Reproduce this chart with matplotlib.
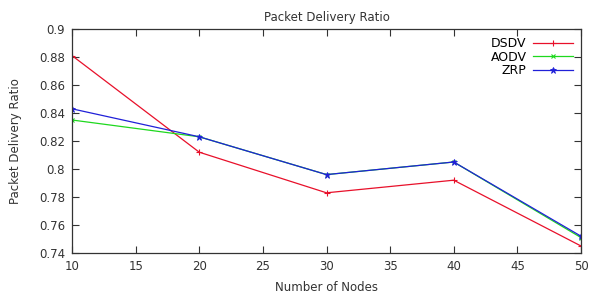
import matplotlib.pyplot as plt

nodes = [10, 20, 30, 40, 50]
dsdv = [0.881, 0.812, 0.783, 0.792, 0.745]
aodv = [0.835, 0.823, 0.796, 0.805, 0.751]
zrp = [0.843, 0.823, 0.796, 0.805, 0.752]

fig = plt.figure(figsize=(6.03, 2.96), dpi=100)
ax = fig.add_axes([72 / 603, 1 - 253 / 296, (581 - 72) / 603, (253 - 29) / 296])

ax.plot(nodes, dsdv, color="#e8102a", lw=0.9, marker="+", ms=5, mew=0.8, label="DSDV")
ax.plot(nodes, aodv, color="#1ed81e", lw=0.9, marker="x", ms=3, mew=0.8, label="AODV")
ax.plot(nodes, zrp, color="#2020d8", lw=0.9, marker="*", ms=5, mew=0.6, label="ZRP")

ax.set_xlim(10, 50)
ax.set_ylim(0.74, 0.9)
ax.set_xticks([10, 15, 20, 25, 30, 35, 40, 45, 50])
ax.set_yticks([0.74, 0.76, 0.78, 0.8, 0.82, 0.84, 0.86, 0.88, 0.9])
ax.set_yticklabels(["0.74", "0.76", "0.78", "0.8", "0.82", "0.84", "0.86", "0.88", "0.9"])
ax.tick_params(direction="in", top=True, right=True, labelsize=8.5, length=5, width=0.8,
               colors="#333333", pad=5)
for s in ax.spines.values():
    s.set_linewidth(0.9)
    s.set_color("#333333")

ax.set_title("Packet Delivery Ratio", fontsize=8.5, pad=6, color="#333333")
ax.set_xlabel("Number of Nodes", fontsize=8.5, color="#333333", labelpad=6)
ax.set_ylabel("Packet Delivery Ratio", fontsize=8.5, color="#333333", labelpad=12)

ax.legend(loc="upper right", frameon=False, fontsize=9, markerfirst=False,
          handlelength=3.2, labelspacing=0.05, borderaxespad=0.25, handletextpad=0.5)

plt.savefig("out.png", dpi=100)
